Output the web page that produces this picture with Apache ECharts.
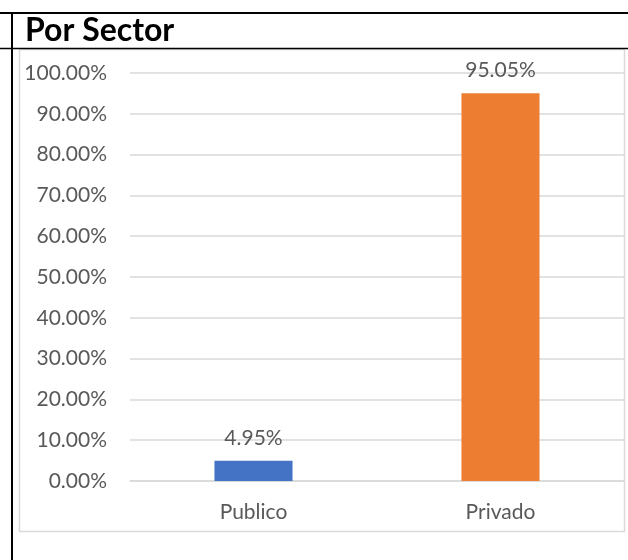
<!DOCTYPE html>
<html>
<head>
<meta charset="utf-8">
<script src="https://cdn.jsdelivr.net/npm/echarts@6/dist/echarts.min.js"></script>
<style>
  html, body { margin: 0; padding: 0; background: #fff; }
  #chart { width: 628px; height: 560px; }
</style>
</head>
<body>
<div id="chart"></div>
<script>
const categories = ['Publico', 'Privado']
const shares = [0.0495, 0.9505]
const barColors = ['#4472c4', '#ed7d31']
const titleText = 'Por Sector'

const fontFam = 'Lato, "Open Sans", sans-serif'
const pct = v => (v * 100).toFixed(2) + '%'

const chart = echarts.init(document.getElementById('chart'), null, { renderer: 'canvas' })

chart.setOption({
  backgroundColor: '#fff',
  animation: false,
  graphic: [
    // chart area box
    { type: 'rect', shape: { x: 19.5, y: 49.5, width: 605, height: 482 },
      style: { fill: 'none', stroke: '#d9d9d9', lineWidth: 1.5 }, z: 0 },
    // sheet cell borders
    { type: 'line', shape: { x1: 0, y1: 13, x2: 628, y2: 13 }, style: { stroke: '#000', lineWidth: 2 } },
    { type: 'line', shape: { x1: 0, y1: 48.5, x2: 628, y2: 48.5 }, style: { stroke: '#000', lineWidth: 1.5 } },
    { type: 'line', shape: { x1: 12, y1: 13, x2: 12, y2: 560 }, style: { stroke: '#000', lineWidth: 2 } },
    { type: 'text', left: 25, top: 15,
      style: { text: titleText, fill: '#000', font: 'bold 32px ' + fontFam } }
  ],
  grid: { left: 130, right: 4, top: 73, bottom: 79 },
  xAxis: {
    type: 'category',
    data: categories,
    axisLine: { show: true, lineStyle: { color: '#d9d9d9', width: 1.5 } },
    axisTick: { show: false },
    axisLabel: { color: '#595959', fontSize: 21, fontFamily: fontFam, margin: 21 }
  },
  yAxis: {
    type: 'value',
    min: 0,
    max: 1,
    interval: 0.1,
    axisLine: { show: false },
    axisTick: { show: false },
    splitLine: { lineStyle: { color: '#d9d9d9', width: 1.5 } },
    axisLabel: { color: '#595959', fontSize: 21, fontFamily: fontFam, margin: 23, formatter: pct }
  },
  series: [{
    type: 'bar',
    barWidth: '31.6%',
    data: shares.map((v, i) => ({ value: v, itemStyle: { color: barColors[i] } })),
    label: {
      show: true,
      position: 'top',
      distance: 12,
      color: '#595959',
      fontSize: 21,
      fontFamily: fontFam,
      formatter: p => pct(p.value)
    }
  }]
})
</script>
</body>
</html>
